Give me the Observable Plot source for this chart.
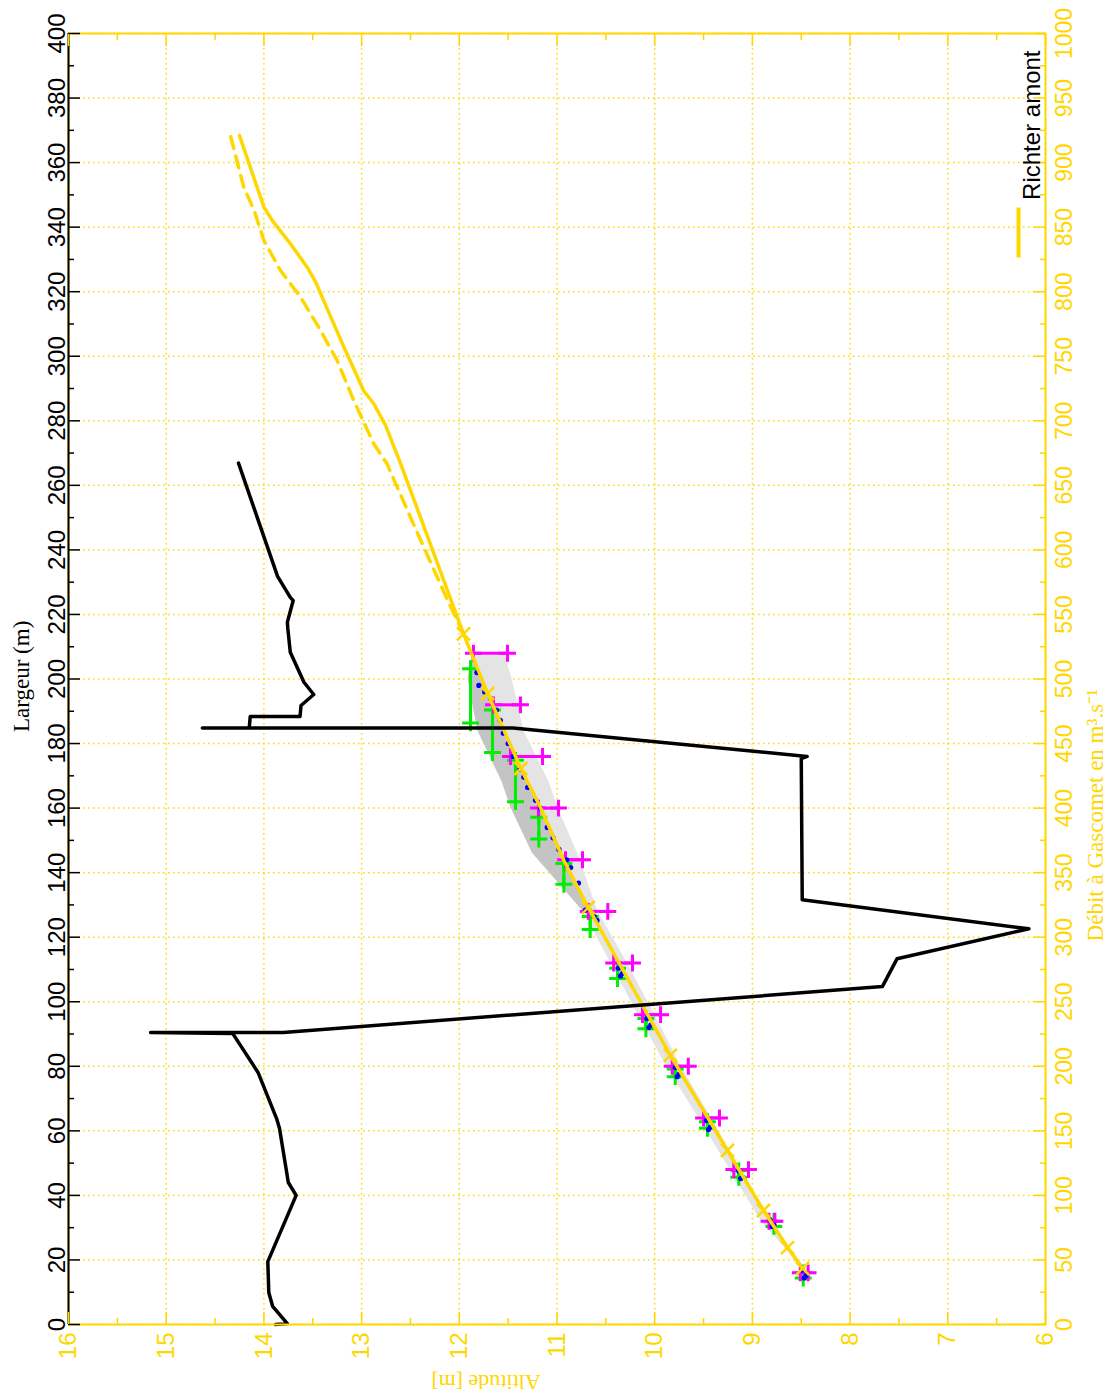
<!DOCTYPE html>
<html><head><meta charset="utf-8">
<script src="https://cdn.jsdelivr.net/npm/d3@7"></script>
<script src="https://cdn.jsdelivr.net/npm/@observablehq/plot@0.6"></script>
<style>html,body{margin:0;padding:0;background:#fff;} #chart{width:1112px;height:1396px;}</style>
</head><body><div id="chart"></div>
<script>
// ---------- Tick labels ----------
const altitudeTicks = [16, 15, 14, 13, 12, 11, 10, 9, 8, 7, 6];
const altitudeMinor = [15.5, 14.5, 13.5, 12.5, 11.5, 10.5, 9.5, 8.5, 7.5, 6.5];
const largeurTicks = [0, 20, 40, 60, 80, 100, 120, 140, 160, 180, 200, 220, 240, 260, 280, 300, 320, 340, 360, 380, 400];
const largeurMinor = [10, 30, 50, 70, 90, 110, 130, 150, 170, 190, 210, 230, 250, 270, 290, 310, 330, 350, 370, 390];
const debitTicks = [0, 50, 100, 150, 200, 250, 300, 350, 400, 450, 500, 550, 600, 650, 700, 750, 800, 850, 900, 950, 1000];

// ---------- Cross-section profile (black): altitude [m] vs largeur [m] ----------
const profileAlt  = [13.88, 13.76, 13.91, 13.95, 13.96, 13.67, 13.75, 13.84, 13.87, 14.06, 14.32, 15.16, 13.80, 7.67, 7.52, 6.17, 8.49, 8.50, 8.44, 11.45, 14.63, 14.15, 14.14, 13.63, 13.62, 13.49, 13.59, 13.73, 13.755, 13.76, 13.70, 13.73, 13.86, 14.26];
const profileLarg = [0, 0.3, 5.6, 9.9, 19.5, 40, 44, 60.7, 63.8, 78.1, 90.2, 90.5, 90.5, 104.7, 113.3, 122.6, 131.6, 175.3, 176, 184.8, 184.8, 184.8, 188.4, 188.4, 191.8, 195.2, 199, 208.3, 215.6, 217.6, 224.3, 225.3, 231.8, 266.9];

// ---------- Rating curve "Richter amont" (yellow): altitude vs débit ----------
const curveAlt = [14.25, 14.0, 13.915, 13.728, 13.557, 13.47, 13.285, 13.18, 12.98, 12.875, 12.755, 12.60, 11.957, 11.71, 11.37, 11.17, 10.93, 10.68, 9.84, 9.255, 8.886, 8.64, 8.487];
const curveQ   = [921, 865.5, 855.2, 837.1, 819, 807.4, 775.1, 757, 723.5, 713.2, 696.4, 666.7, 535, 488.8, 430.7, 400.7, 359.4, 323, 208.4, 134.8, 88.3, 59.6, 43.4];
const curveDashAlt = [14.34, 14.206, 14.10, 14.0, 13.83, 13.625, 13.44, 13.25, 13.08, 12.875, 12.74, 12.50, 12.12, 11.957];
const curveDashQ   = [920, 881, 862.9, 839.7, 816.4, 795.8, 772.6, 746.7, 715.7, 682.2, 666.7, 625.3, 561, 535];
const markerAlt = [11.957, 11.71, 11.37, 10.68, 9.84, 9.255, 8.886, 8.64, 8.487];
const markerQ   = [535, 488.8, 430.7, 323, 208.4, 134.8, 88.3, 59.6, 43.4];

// ---------- Uncertainty band (grey) ----------
const bandQ     = [518, 500, 460, 420, 400, 365, 320, 280, 240, 200, 160, 120, 80, 45];
const bandLeft  = [11.87, 11.91, 11.81, 11.56, 11.47, 11.25, 10.73, 10.45, 10.17, 9.88, 9.55, 9.23, 8.91, 8.50];
const bandRight = [11.53, 11.46, 11.34, 11.08, 10.99, 10.79, 10.58, 10.28, 10.00, 9.73, 9.42, 9.12, 8.84, 8.47];
const darkQ     = [518, 500, 460, 420, 400, 365, 320];
const darkLeft  = [11.87, 11.91, 11.81, 11.56, 11.47, 11.25, 10.73];
const darkRight = [11.866, 11.77, 11.541, 11.299, 11.165, 10.963, 10.658];

// ---------- Gaugings ----------
// magenta: altitude uncertainty at each débit
const magQ     = [520, 480, 440, 400, 360, 320, 280, 240, 200, 160, 120, 80, 40];
const magLeft  = [11.855, 11.65, 11.476, 11.19, 10.913, 10.68, 10.42, 10.125, 9.82, 9.50, 9.19, 8.83, 8.51];
const magRight = [11.507, 11.374, 11.148, 10.985, 10.739, 10.48, 10.227, 9.94, 9.656, 9.337, 9.04, 8.77, 8.43];
// green: débit uncertainty at each altitude
const greenAlt  = [11.885, 11.66, 11.425, 11.186, 10.93, 10.66, 10.38, 10.09, 9.79, 9.46, 9.14, 8.78, 8.48];
const greenQTop = [508, 476, 437, 393, 357, 316, 276, 237, 198, 157, 119, 80, 40];
const greenQBot = [466, 443, 405, 376, 341, 306, 268, 229, 192, 152, 114, 76, 36];
// blue: gauging samples
const blueAlt = [11.82, 11.80, 11.74, 11.68, 11.62, 11.58, 11.55, 11.50, 11.45, 11.38, 11.34, 11.30, 11.22, 11.17, 11.10, 11.04, 10.98, 10.90, 10.86, 10.78, 10.71, 10.62, 10.59,
                 10.37, 10.33, 10.35, 10.08, 10.04, 10.06, 9.79, 9.75, 9.77, 9.47, 9.43, 9.45, 9.14, 9.10, 9.12, 8.82, 8.78, 8.80, 8.49, 8.45, 8.47];
const blueQ   = [505, 495, 490, 485, 476, 468, 458, 450, 440, 430, 424, 416, 406, 400, 385, 377, 368, 360, 354, 342, 321, 316, 313,
                 276, 272, 270, 237, 232, 230, 199, 194, 192, 158, 153, 151, 119, 114, 113, 81, 77, 76, 42, 38, 36];

// ---------- Build tables (débit mapped onto the largeur axis: 1000 m3/s <-> 400 m) ----------
const K = 2.5;
const profile = profileAlt.map((a, i) => ({alt: a, y: profileLarg[i]}));
const curve = curveAlt.map((a, i) => ({alt: a, y: curveQ[i] / K}));
const curveDash = curveDashAlt.map((a, i) => ({alt: a, y: curveDashQ[i] / K}));
const markers = markerAlt.map((a, i) => ({alt: a, y: markerQ[i] / K}));
const band = bandQ.map((q, i) => ({y: q / K, x1: bandLeft[i], x2: bandRight[i]}));
const dark = darkQ.map((q, i) => ({y: q / K, x1: darkLeft[i], x2: darkRight[i]}));
const mag = magQ.map((q, i) => ({y: q / K, x1: magLeft[i], x2: magRight[i]}));
const magEnds = mag.flatMap(d => [{alt: d.x1, y: d.y}, {alt: d.x2, y: d.y}]);
const green = greenAlt.map((a, i) => ({alt: a, y1: greenQTop[i] / K, y2: greenQBot[i] / K}));
const greenEnds = green.flatMap(d => [{alt: d.alt, y: d.y1}, {alt: d.alt, y: d.y2}]);
const blue = blueAlt.map((a, i) => ({alt: a, y: blueQ[i] / K}));

const GOLD = "#FFD700";
const SANS = "Liberation Sans, Arial, Helvetica, sans-serif";
const SERIF = "Liberation Serif, Times New Roman, serif";
const legendLine = {draw(ctx) { ctx.moveTo(0, -25); ctx.lineTo(0, 25); }};

const chart = Plot.plot({
  width: 1112,
  height: 1396,
  marginLeft: 68,
  marginRight: 67,
  marginTop: 33,
  marginBottom: 72,
  x: {domain: [16, 6]},
  y: {domain: [0, 400]},
  style: {fontFamily: SANS, background: "white", overflow: "visible"},
  marks: [
    Plot.gridX(altitudeTicks, {stroke: GOLD, strokeOpacity: 1, strokeWidth: 1.5, strokeDasharray: "1.5,3.5"}),
    Plot.gridY(largeurTicks, {stroke: GOLD, strokeOpacity: 1, strokeWidth: 1.5, strokeDasharray: "1.5,3.5"}),
    Plot.areaX(band, {y: "y", x1: "x1", x2: "x2", fill: "#e4e4e4"}),
    Plot.areaX(dark, {y: "y", x1: "x1", x2: "x2", fill: "#c4c4c4"}),
    Plot.ruleX(green, {x: "alt", y1: "y1", y2: "y2", stroke: "#00ee00", strokeWidth: 3}),
    Plot.dot(greenEnds, {x: "alt", y: "y", symbol: "plus", r: 5.5, stroke: "#00ee00", strokeWidth: 3}),
    Plot.ruleY(mag, {y: "y", x1: "x1", x2: "x2", stroke: "#ff00ff", strokeWidth: 3}),
    Plot.dot(magEnds, {x: "alt", y: "y", symbol: "plus", r: 5.5, stroke: "#ff00ff", strokeWidth: 3}),
    Plot.dot(blue, {x: "alt", y: "y", r: 2.6, fill: "#0000ff"}),
    Plot.line(curveDash, {x: "alt", y: "y", stroke: GOLD, strokeWidth: 3.5, strokeDasharray: "12,8"}),
    Plot.line(curve, {x: "alt", y: "y", stroke: GOLD, strokeWidth: 3.5}),
    Plot.dot(markers, {x: "alt", y: "y", symbol: "times", r: 6, stroke: GOLD, strokeWidth: 2.5}),
    Plot.line(profile, {x: "alt", y: "y", stroke: "black", strokeWidth: 3.5}),
    // frame / spines
    Plot.frame({stroke: GOLD, strokeWidth: 2}),
    Plot.ruleX([16], {stroke: "black", strokeWidth: 2}),
    // inward ticks
    Plot.axisY(largeurTicks, {anchor: "left", tickSize: -12, tickFormat: () => "", color: "black", strokeWidth: 1.5, label: null}),
    Plot.axisY(largeurMinor, {anchor: "left", tickSize: -6, tickFormat: () => "", color: "black", strokeWidth: 1.5, label: null}),
    Plot.axisY(largeurTicks, {anchor: "right", tickSize: -12, tickFormat: () => "", color: GOLD, strokeWidth: 1.5, label: null}),
    Plot.axisY(largeurMinor, {anchor: "right", tickSize: -6, tickFormat: () => "", color: GOLD, strokeWidth: 1.5, label: null}),
    Plot.axisX(altitudeTicks, {anchor: "bottom", tickSize: -12, tickFormat: () => "", color: GOLD, strokeWidth: 1.5, label: null}),
    Plot.axisX(altitudeMinor, {anchor: "bottom", tickSize: -6, tickFormat: () => "", color: GOLD, strokeWidth: 1.5, label: null}),
    Plot.axisX(altitudeTicks, {anchor: "top", tickSize: -12, tickFormat: () => "", color: GOLD, strokeWidth: 1.5, label: null}),
    Plot.axisX(altitudeMinor, {anchor: "top", tickSize: -6, tickFormat: () => "", color: GOLD, strokeWidth: 1.5, label: null}),
    // tick labels
    Plot.axisY(largeurTicks, {anchor: "left", tickSize: 0, tickPadding: 4, tickRotate: -90, lineAnchor: "bottom", textAnchor: "middle", fontSize: 24, color: "black", label: null}),
    Plot.axisY(debitTicks.map(d => d / K), {anchor: "right", tickSize: 0, tickPadding: 10, tickRotate: -90, lineAnchor: "top", textAnchor: "middle", tickFormat: d => String(d * K), fontSize: 23, color: GOLD, label: null}),
    Plot.axisX(altitudeTicks, {anchor: "bottom", tickSize: 0, tickPadding: 8, tickRotate: -90, textAnchor: "end", lineAnchor: "middle", fontSize: 24, color: GOLD, label: null}),
    // axis titles
    Plot.text(["Largeur (m)"], {frameAnchor: "left", dx: -47, dy: 53, rotate: -90, fontFamily: SERIF, fontSize: 23, fill: "black"}),
    Plot.text(["Débit à Gascomet en m³.s⁻¹"], {frameAnchor: "right", dx: 50, dy: 10, rotate: -90, fontFamily: SERIF, fontSize: 23, fill: GOLD}),
    Plot.text(["Altitude [m]"], {frameAnchor: "bottom", dx: -71, dy: 50, rotate: 180, fontFamily: SERIF, fontSize: 22, fill: GOLD}),
    // legend
    Plot.dot([0], {frameAnchor: "top-right", dx: -27, dy: 199, symbol: legendLine, r: 5, fill: "none", stroke: GOLD, strokeWidth: 4}),
    Plot.text(["Richter amont"], {frameAnchor: "top-right", dx: -23, dy: 17, rotate: -90, textAnchor: "end", fontSize: 24, fill: "black"})
  ]
});
document.getElementById("chart").appendChild(chart);
</script></body></html>
